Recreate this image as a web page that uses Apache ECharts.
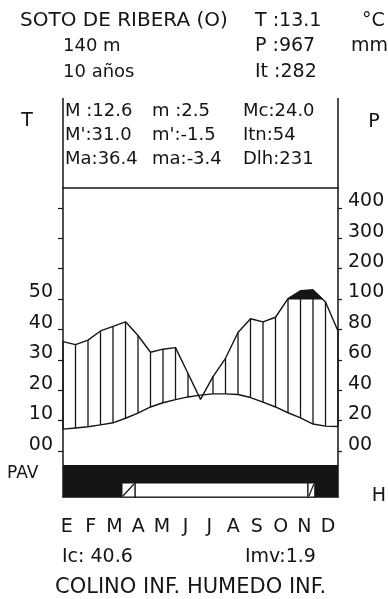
<!DOCTYPE html>
<html>
<head>
<meta charset="utf-8">
<script src="https://cdn.jsdelivr.net/npm/echarts@6/dist/echarts.min.js"></script>
<style>
    html, body { margin: 0; padding: 0; background: #fff; }
    #cn { width: 388px; height: 599px; }
</style>
</head>
<body>
<div id="cn"></div>
<script>
'use strict';

/*
 * climodiagrama - Soto de Ribera
 */

const arrMonth = ['E', 'F', 'M', 'A', 'M', 'J', 'J', 'A', 'S', 'O', 'N', 'D'];
const arrTemp = [7.2, 7.6, 8.0, 8.6, 9.3, 10.8, 12.5, 14.5, 15.9, 16.9, 17.8, 18.4, 18.8, 18.8, 18.6, 17.6, 16.1, 14.5, 12.6, 10.9, 8.9, 8.2, 8.1]; // °C
const arrPrec = [72, 70, 73, 79, 82, 85, 76, 65, 67, 68, 51, 34, 49, 61, 78, 87, 85, 88, 101, 127, 130, 98, 79]; // mm
const arrTempTick = ['00', '10', '20', '30', '40', '50'];
const arrPrecTick = ['00', '20', '40', '60', '80', '100', '200', '300', '400'];
const arrFrostFree = [3.14, 10.69]; // months
const arrDoubtful = [[2.57, 3.14], [10.69, 10.99]];
const arrStation = ['SOTO DE RIBERA (O)', '140 m', '10 años'];
const arrClimate = ['T :13.1', 'P :967', 'It :282'];
const arrUnit = ['°C', 'mm'];
const arrStats = [
    ['M :12.6', 'm :2.5', 'Mc:24.0'],
    ["M':31.0", "m':-1.5", 'Itn:54'],
    ['Ma:36.4', 'ma:-3.4', 'Dlh:231']
];
const arrIndex = ['Ic: 40.6', 'Imv:1.9'];
const strClass = 'COLINO INF. HUMEDO INF.';

const FONT = '"DejaVu Sans"';
const INK = '#151515';
const Y_MIN = -15.1;
const Y_MAX = 86.5;
const PAV_TOP = -4.6;
const PAV_WHITE = -10.5;

// 0-100 mm -> 2 mm/°C, above 100 mm compressed 10 mm/°C
const precToAxis = mm => mm <= 100 ? mm / 2 : 50 + (mm - 100) / 10;
const arrPrecAxis = arrPrec.map(precToAxis);

// part of the curve above 100 mm
let arrWet = [];
for (let i = 0; i < arrPrecAxis.length; i++) {
    const a = arrPrecAxis[i];
    const b = arrPrecAxis[i + 1];
    if (a > 50) arrWet.push([i, a]);
    if (b !== undefined && (a > 50) !== (b > 50)) {
        arrWet.push([i + (50 - a) / (b - a), 50]);
    }
}

const txt = (text, x, y, size, align) => ({
    type: 'text',
    x: x,
    y: y,
    z: 10,
    style: {
        text: text,
        font: `${size}px ${FONT}`,
        fill: INK,
        textAlign: align || 'left',
        textVerticalAlign: 'middle',
        verticalAlign: 'middle'
    }
});

const vline = (x, y1, y2) => ({
    type: 'line',
    shape: { x1: x, y1: y1, x2: x, y2: y2 },
    style: { stroke: INK, lineWidth: 1.5 }
});

let arrGraphic = [
    txt(arrStation[0], 20, 21, 20),
    txt(arrStation[1], 63, 46, 18),
    txt(arrStation[2], 63, 72, 18),
    txt(arrClimate[0], 255, 21, 19),
    txt(arrClimate[1], 255, 46, 19),
    txt(arrClimate[2], 255, 72, 19),
    txt(arrUnit[0], 362, 21, 19),
    txt(arrUnit[1], 351, 46, 19),
    txt('T', 27, 121, 19, 'center'),
    txt('P', 374, 122, 19, 'center'),
    txt('H', 379, 496, 19, 'center'),
    txt('PAV', 7, 474, 17),
    txt(arrIndex[0], 62, 557, 19),
    txt(arrIndex[1], 245, 557, 19),
    txt(strClass, 55, 588, 21),
    vline(63, 98, 188),
    vline(338, 98, 188)
];
const arrCol = [65, 152, 243];
arrStats.forEach((row, r) => {
    row.forEach((s, c) => {
        arrGraphic.push(txt(s, arrCol[c], 111 + r * 24, 18));
    });
});

const chart = echarts.init(document.getElementById('cn'));

const yLabel = arr => ({
    customValues: arr.map((s, i) => i * 10),
    formatter: v => arr[Math.round(v / 10)],
    margin: 10,
    fontSize: 19,
    color: INK,
    fontFamily: FONT,
    verticalAlign: 'bottom',
    lineHeight: 13
});

const option = {
    backgroundColor: '#fff',
    animation: false,
    textStyle: { fontFamily: FONT, color: INK },
    grid: [
        { left: 63, right: 50, top: 188, bottom: 102 },
        { left: 55, right: 48, top: 188, bottom: 102 } // month labels
    ],
    xAxis: [{
        type: 'category',
        data: arrMonth,
        boundaryGap: true,
        axisLine: { onZero: false, lineStyle: { color: INK, width: 1.5 } },
        axisTick: { length: 4, lineStyle: { color: INK, width: 1.2 } },
        axisLabel: { show: false },
        splitLine: { show: false }
    }, {
        type: 'value',
        min: 0,
        max: arrTemp.length - 1,
        show: false
    }, {
        type: 'value',
        min: 0,
        max: 12,
        position: 'top',
        axisLine: { show: true, onZero: false, lineStyle: { color: INK, width: 1.5 } },
        axisTick: { show: false },
        axisLabel: { show: false },
        splitLine: { show: false }
    }, {
        gridIndex: 1,
        type: 'category',
        data: arrMonth,
        boundaryGap: true,
        axisLine: { show: false, onZero: false },
        axisTick: { show: false },
        axisLabel: { margin: 21, fontSize: 19, color: INK, fontFamily: FONT, interval: 0 },
        splitLine: { show: false }
    }],
    yAxis: [{
        type: 'value',
        min: Y_MIN,
        max: Y_MAX,
        position: 'left',
        axisLine: { show: true, onZero: false, lineStyle: { color: INK, width: 1.5 } },
        axisTick: {
            show: true,
            length: 5,
            customValues: arrPrecTick.map((s, i) => i * 10),
            lineStyle: { color: INK, width: 1.2 }
        },
        axisLabel: yLabel(arrTempTick),
        splitLine: { show: false }
    }, {
        type: 'value',
        min: Y_MIN,
        max: Y_MAX,
        position: 'right',
        axisLine: { show: true, onZero: false, lineStyle: { color: INK, width: 1.5 } },
        axisTick: {
            show: true,
            length: 4,
            customValues: arrPrecTick.map((s, i) => i * 10),
            lineStyle: { color: INK, width: 1.2 }
        },
        axisLabel: yLabel(arrPrecTick),
        splitLine: { show: false }
    }, {
        gridIndex: 1,
        type: 'value',
        show: false
    }],
    series: [{
        // hatch: humid period
        type: 'custom',
        xAxisIndex: 1,
        yAxisIndex: 0,
        data: arrTemp.map((t, i) => [i, t, arrPrecAxis[i]]),
        encode: { x: 0, y: 1 },
        renderItem: (params, api) => {
            const i = api.value(0);
            const t = api.value(1);
            const p = api.value(2);
            if (p <= t) return;
            const a = api.coord([i, t]);
            const b = api.coord([i, Math.min(p, 50)]);
            return {
                type: 'line',
                shape: { x1: a[0], y1: a[1], x2: b[0], y2: b[1] },
                style: { stroke: INK, lineWidth: 1.3 }
            };
        }
    }, {
        // > 100 mm
        type: 'custom',
        xAxisIndex: 1,
        yAxisIndex: 0,
        data: [[0, 50]],
        renderItem: (params, api) => ({
            type: 'polygon',
            shape: { points: arrWet.map(p => api.coord(p)) },
            style: { fill: INK, stroke: INK, lineWidth: 1 }
        })
    }, {
        type: 'line',
        xAxisIndex: 1,
        yAxisIndex: 0,
        data: arrTemp.map((t, i) => [i, t]),
        symbol: 'none',
        lineStyle: { color: INK, width: 1.4 },
        z: 3
    }, {
        type: 'line',
        xAxisIndex: 1,
        yAxisIndex: 0,
        data: arrPrecAxis.map((v, i) => [i, v]),
        symbol: 'none',
        lineStyle: { color: INK, width: 1.4 },
        z: 3
    }, {
        // PAV bar
        type: 'custom',
        xAxisIndex: 2,
        yAxisIndex: 0,
        data: [[0, PAV_TOP]],
        z: 4,
        renderItem: (params, api) => {
            const tl = api.coord([0, PAV_TOP]);
            const br = api.coord([12, Y_MIN]);
            const wy = api.coord([0, PAV_WHITE])[1];
            const box = (m1, m2) => {
                const x1 = api.coord([m1, 0])[0];
                const x2 = api.coord([m2, 0])[0];
                return { x: x1, y: wy, width: x2 - x1, height: br[1] - wy };
            };
            let children = [{
                type: 'rect',
                shape: { x: tl[0], y: tl[1], width: br[0] - tl[0], height: br[1] - tl[1] },
                style: { fill: INK }
            }, {
                type: 'rect',
                shape: box(arrFrostFree[0], arrFrostFree[1]),
                style: { fill: '#fff', stroke: INK, lineWidth: 1.2 }
            }];
            arrDoubtful.forEach(d => {
                const s = box(d[0], d[1]);
                children.push({
                    type: 'rect',
                    shape: s,
                    style: { fill: '#fff', stroke: INK, lineWidth: 1.2 }
                });
                children.push({
                    type: 'line',
                    shape: { x1: s.x + 1, y1: s.y + s.height - 1, x2: s.x + s.width - 1, y2: s.y + 1 },
                    style: { stroke: INK, lineWidth: 1.2 }
                });
            });
            return { type: 'group', children: children };
        }
    }],
    graphic: arrGraphic
};

chart.setOption(option);
</script>
</body>
</html>
